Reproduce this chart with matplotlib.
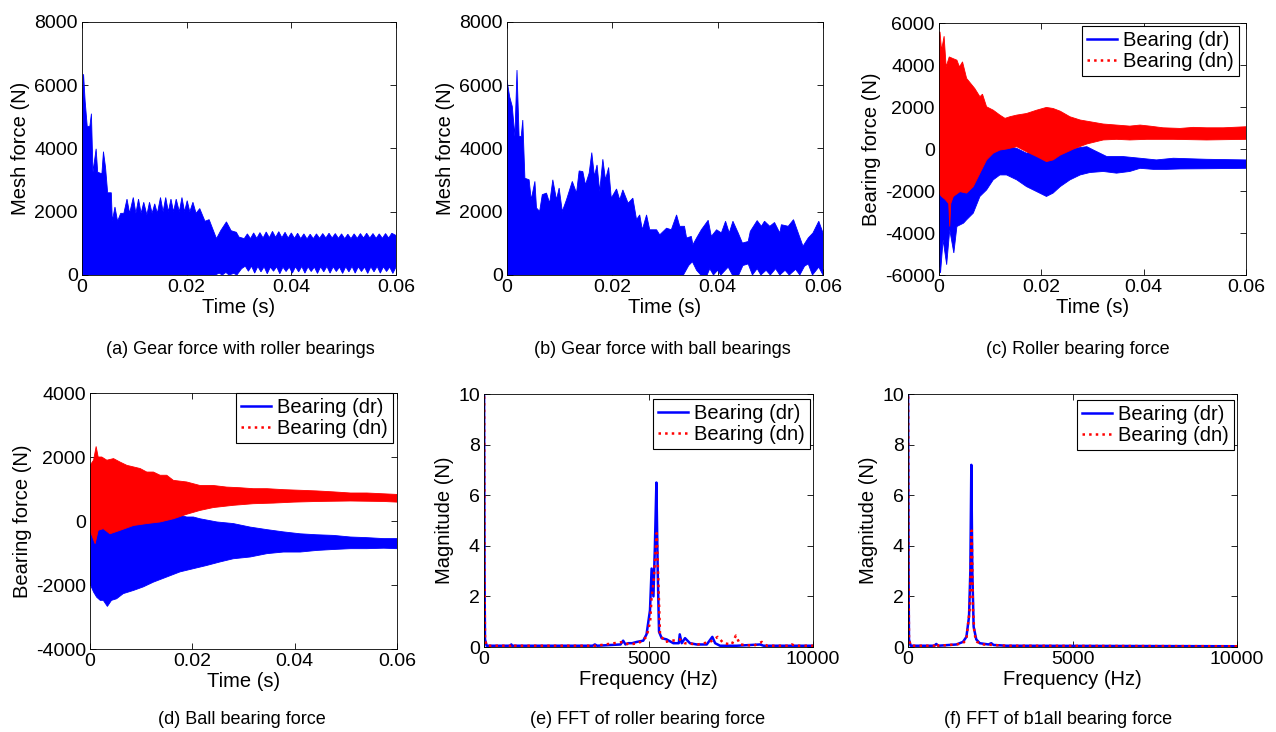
import numpy as np
import matplotlib
matplotlib.use("Agg")
import matplotlib.pyplot as plt
from matplotlib.lines import Line2D

plt.rcParams['font.family'] = ['Liberation Sans', 'DejaVu Sans']

BLUE = '#0000FF'
RED = '#FF0000'

# ---------------- data (envelopes) ----------------
TIME_TICKS = [0, 0.02, 0.04, 0.06]
TIME_TICK_LABELS = ['0', '0.02', '0.04', '0.06']
FREQ_TICKS = [0, 5000, 10000]
FREQ_TICK_LABELS = ['0', '5000', '10000']
SERIES_LABELS = ['Bearing (dr)', 'Bearing (dn)']
CAPTIONS = ['(a) Gear force with roller bearings', '(b) Gear force with ball bearings',
            '(c) Roller bearing force', '(d) Ball bearing force',
            '(e) FFT of roller bearing force', '(f) FFT of b1all bearing force']

# (a) gear mesh force, roller bearings: upper / lower envelope (t, N)
A_UPPER = [(0.0, 5200), (0.0003, 6350), (0.0006, 5500), (0.0010, 4700), (0.0015, 4700),
           (0.0018, 5100), (0.0021, 3250), (0.0027, 3990), (0.0030, 3250), (0.0038, 3200),
           (0.0041, 3900), (0.0045, 3400), (0.0049, 2600), (0.0056, 2600), (0.0058, 1700),
           (0.0063, 2150), (0.0068, 1700), (0.0074, 1950), (0.0080, 1950), (0.0086, 2400),
           (0.0091, 1950), (0.0098, 2450), (0.0103, 1950), (0.0108, 2400), (0.0113, 1950),
           (0.0118, 2300), (0.0124, 1900), (0.0129, 2300), (0.0134, 1950), (0.0139, 2250),
           (0.0144, 1950), (0.0150, 2450), (0.0155, 2000), (0.0160, 2450), (0.0165, 2000),
           (0.0170, 2400), (0.0175, 2000), (0.0180, 2400), (0.0186, 2000), (0.0191, 2450),
           (0.0196, 2000), (0.0201, 2350), (0.0206, 2000), (0.0212, 2300), (0.0218, 1950),
           (0.0225, 2100), (0.0235, 1700), (0.0243, 1750), (0.0250, 1450), (0.0257, 1150),
           (0.0265, 1400), (0.0276, 1680), (0.0285, 1400), (0.0295, 1350), (0.0300, 1200),
           (0.0310, 1150), (0.0316, 1300), (0.0322, 1150), (0.0328, 1330), (0.0334, 1160),
           (0.0340, 1340), (0.0346, 1170), (0.0352, 1360), (0.0358, 1180), (0.0364, 1380),
           (0.0370, 1190), (0.0376, 1370), (0.0382, 1180), (0.0388, 1350), (0.0394, 1170),
           (0.0400, 1330), (0.0406, 1160), (0.0412, 1320), (0.0418, 1150), (0.0424, 1300),
           (0.0430, 1140), (0.0436, 1290), (0.0442, 1150), (0.0448, 1300), (0.0454, 1160),
           (0.0460, 1310), (0.0466, 1170), (0.0472, 1320), (0.0478, 1170), (0.0484, 1310),
           (0.0490, 1160), (0.0496, 1300), (0.0502, 1150), (0.0508, 1290), (0.0514, 1150),
           (0.0520, 1300), (0.0526, 1160), (0.0532, 1310), (0.0538, 1170), (0.0544, 1320),
           (0.0550, 1170), (0.0556, 1310), (0.0562, 1160), (0.0568, 1300), (0.0574, 1160),
           (0.0580, 1310), (0.0586, 1170), (0.0592, 1320), (0.0600, 1250)]
A_LOWER = [(0.0, 0), (0.0255, 0), (0.0262, 60), (0.0268, 0), (0.0275, 80), (0.0281, 0),
           (0.0290, 50), (0.0296, 0), (0.0305, 200), (0.0312, 280), (0.0318, 120),
           (0.0324, 280), (0.0330, 60), (0.0336, 270), (0.0342, 100), (0.0348, 260),
           (0.0354, 40), (0.0360, 250), (0.0366, 120), (0.0372, 260), (0.0378, 40),
           (0.0384, 250), (0.0390, 110), (0.0396, 250), (0.0402, 60), (0.0408, 260),
           (0.0414, 100), (0.0420, 270), (0.0426, 60), (0.0432, 260), (0.0438, 110),
           (0.0444, 250), (0.0450, 50), (0.0456, 260), (0.0462, 100), (0.0468, 270),
           (0.0474, 60), (0.0480, 260), (0.0486, 110), (0.0492, 250), (0.0498, 50),
           (0.0504, 260), (0.0510, 100), (0.0516, 270), (0.0522, 60), (0.0528, 260),
           (0.0534, 110), (0.0540, 250), (0.0546, 50), (0.0552, 260), (0.0558, 100),
           (0.0564, 270), (0.0570, 60), (0.0576, 260), (0.0582, 110), (0.0588, 250),
           (0.0594, 50), (0.0600, 250)]

# (b) gear mesh force, ball bearings
B_UPPER = [(0.0, 6170), (0.0005, 5640), (0.0010, 5330), (0.0015, 4380), (0.0019, 6480),
           (0.0023, 4380), (0.0027, 4380), (0.0030, 4900), (0.0034, 3060), (0.0042, 3010),
           (0.0046, 2380), (0.0053, 2960), (0.0056, 2120), (0.0062, 2010), (0.0067, 2540),
           (0.0075, 2590), (0.0081, 2270), (0.0087, 3010), (0.0094, 2380), (0.0099, 2750),
           (0.0105, 2010), (0.0113, 2380), (0.0124, 2960), (0.0132, 2590), (0.0137, 3290),
           (0.0144, 3270), (0.0149, 2850), (0.0156, 3220), (0.0161, 3870), (0.0166, 3120),
           (0.0171, 3480), (0.0176, 2640), (0.0182, 3660), (0.0187, 3010), (0.0193, 3400),
           (0.0198, 2430), (0.0208, 2720), (0.0214, 2380), (0.0220, 2690), (0.0230, 2270),
           (0.0239, 2430), (0.0246, 1750), (0.0252, 1900), (0.0257, 1430), (0.0265, 1900),
           (0.0271, 1430), (0.0284, 1430), (0.0290, 1270), (0.0303, 1480), (0.0312, 1430),
           (0.0322, 1900), (0.0328, 1540), (0.0337, 1540), (0.0341, 1170), (0.0350, 1220),
           (0.0353, 960), (0.0360, 1170), (0.0369, 1430), (0.0382, 1730), (0.0388, 1220),
           (0.0398, 1430), (0.0407, 1330), (0.0415, 1700), (0.0422, 1330), (0.0429, 1700),
           (0.0439, 1330), (0.0447, 1010), (0.0458, 1060), (0.0462, 1380), (0.0475, 1720),
           (0.0483, 1540), (0.0489, 1700), (0.0499, 1540), (0.0508, 1660), (0.0518, 1330),
           (0.0521, 1590), (0.0534, 1540), (0.0544, 1750), (0.0553, 1330), (0.0562, 910),
           (0.0572, 1170), (0.0581, 1330), (0.0592, 1700), (0.0600, 1330)]
B_LOWER = [(0.0, 0), (0.0290, 0), (0.0335, 0), (0.0345, 300), (0.0352, 420), (0.0360, 150),
           (0.0368, 0), (0.0380, 0), (0.0385, 200), (0.0392, 0), (0.0400, 150), (0.0406, 0),
           (0.0420, 250), (0.0428, 0), (0.0440, 0), (0.0448, 300), (0.0458, 350),
           (0.0466, 0), (0.0475, 200), (0.0482, 0), (0.0492, 150), (0.0500, 0),
           (0.0510, 200), (0.0518, 0), (0.0528, 150), (0.0536, 0), (0.0548, 180),
           (0.0556, 0), (0.0565, 280), (0.0572, 350), (0.0580, 0), (0.0592, 250), (0.0600, 0)]

# (c) roller bearing force, dn (red) and dr (blue)
C_DN_UPPER = [(0.0, 5570), (0.0002, 5570), (0.0005, 4700), (0.0010, 5370), (0.0014, 3910),
              (0.0020, 4385), (0.0028, 4300), (0.0035, 4230), (0.0040, 3910), (0.0046, 4150),
              (0.0054, 3360), (0.0062, 3120), (0.0070, 2880), (0.0080, 2490), (0.0085, 2610),
              (0.0093, 2010), (0.0106, 1850), (0.0119, 1615), (0.0129, 1460), (0.0139, 1540),
              (0.0152, 1615), (0.0171, 1690), (0.0191, 1850), (0.0210, 1980), (0.0223, 1930),
              (0.0237, 1800), (0.0256, 1535), (0.0276, 1380), (0.0295, 1300), (0.0321, 1190),
              (0.0347, 1140), (0.0373, 1090), (0.0393, 1140), (0.0412, 1090), (0.0438, 1010),
              (0.0471, 980), (0.0497, 1030), (0.0523, 1010), (0.0556, 1010), (0.0600, 1060)]
C_DN_LOWER = [(0.0, -2100), (0.0005, -2260), (0.0012, -2400), (0.0019, -2600), (0.0021, -3690),
              (0.0023, -2600), (0.0028, -2260), (0.0041, -2030), (0.0054, -2100), (0.0067, -1790),
              (0.0080, -1155), (0.0093, -520), (0.0106, -200), (0.0119, -50), (0.0132, 0),
              (0.0152, 110), (0.0171, -130), (0.0191, -360), (0.0210, -600), (0.0223, -520),
              (0.0237, -290), (0.0263, 0), (0.0289, 240), (0.0321, 430), (0.0347, 460),
              (0.0373, 430), (0.0406, 460), (0.0458, 460), (0.0523, 430), (0.0600, 460)]
C_DR_UPPER = [(0.0, 1000), (0.0080, -285), (0.0106, -130), (0.0132, 140), (0.0152, 30),
              (0.0171, -200), (0.0197, -50), (0.0230, 30), (0.0263, 30), (0.0289, 110),
              (0.0302, -50), (0.0328, -360), (0.0360, -360), (0.0393, -440), (0.0425, -520),
              (0.0458, -440), (0.0523, -490), (0.0600, -520)]
C_DR_LOWER = [(0.0, -5430), (0.0003, -5900), (0.0008, -4320), (0.0015, -5510), (0.0021, -3850),
              (0.0029, -4950), (0.0035, -3690), (0.0048, -3530), (0.0054, -3370), (0.0067, -3055),
              (0.0080, -2260), (0.0093, -1950), (0.0106, -1470), (0.0119, -1235), (0.0132, -1235),
              (0.0152, -1470), (0.0171, -1790), (0.0191, -2030), (0.0210, -2260), (0.0223, -2100),
              (0.0237, -1790), (0.0256, -1470), (0.0276, -1235), (0.0295, -1120), (0.0321, -1070),
              (0.0347, -1150), (0.0373, -1070), (0.0393, -920), (0.0419, -970), (0.0445, -970),
              (0.0471, -950), (0.0523, -940), (0.0600, -920)]

# (d) ball bearing force
D_DN_UPPER = [(0.0, 1740), (0.0007, 1900), (0.0012, 2330), (0.0016, 2000), (0.0023, 2000),
              (0.0033, 1900), (0.0046, 1950), (0.0059, 1840), (0.0072, 1740), (0.0085, 1690),
              (0.0098, 1640), (0.0111, 1530), (0.0124, 1530), (0.0137, 1430), (0.0150, 1430),
              (0.0163, 1270), (0.0189, 1220), (0.0215, 1110), (0.0241, 1110), (0.0267, 1060),
              (0.0293, 1040), (0.0319, 1010), (0.0346, 1010), (0.0378, 980), (0.0411, 960),
              (0.0443, 940), (0.0476, 910), (0.0509, 875), (0.0541, 875), (0.0574, 850),
              (0.0600, 830)]
D_DN_LOWER = [(0.0, -290), (0.0010, -710), (0.0016, -290), (0.0026, -240), (0.0039, -400),
              (0.0059, -290), (0.0085, -140), (0.0111, -80), (0.0137, -30), (0.0163, 70),
              (0.0189, 210), (0.0215, 330), (0.0241, 420), (0.0280, 490), (0.0319, 540),
              (0.0359, 560), (0.0398, 590), (0.0443, 610), (0.0509, 625), (0.0574, 610),
              (0.0600, 590)]
D_DR_UPPER = [(0.0, -100), (0.0013, 750), (0.0033, 1170), (0.0052, 1120), (0.0085, 850),
              (0.0117, 590), (0.0150, 330), (0.0176, 180), (0.0189, 125), (0.0202, 125),
              (0.0215, 70), (0.0248, -30), (0.0280, -80), (0.0313, -190), (0.0346, -270),
              (0.0378, -340), (0.0411, -400), (0.0443, -430), (0.0476, -450), (0.0509, -500),
              (0.0541, -520), (0.0574, -550), (0.0600, -550)]
D_DR_LOWER = [(0.0, -1960), (0.0007, -2220), (0.0013, -2380), (0.0020, -2480), (0.0026, -2480),
              (0.0034, -2670), (0.0042, -2480), (0.0052, -2430), (0.0065, -2270), (0.0085, -2170),
              (0.0104, -2060), (0.0124, -1910), (0.0150, -1750), (0.0176, -1590), (0.0202, -1490),
              (0.0228, -1390), (0.0254, -1280), (0.0280, -1180), (0.0313, -1125), (0.0346, -1020),
              (0.0378, -970), (0.0411, -970), (0.0443, -920), (0.0476, -890), (0.0509, -865),
              (0.0541, -865), (0.0574, -850), (0.0600, -865)]

# (e) FFT, roller bearings (Hz, N)
E_DR = [(0, 12), (15, 3), (30, 0.3), (80, 0.05), (800, 0.05), (830, 0.1), (860, 0.05),
        (3300, 0.05), (3370, 0.1), (3440, 0.05), (4150, 0.1), (4230, 0.25), (4300, 0.1),
        (4385, 0.15), (4500, 0.15), (4640, 0.2), (4840, 0.25), (4940, 0.5), (5045, 1.45),
        (5095, 3.1), (5150, 2.0), (5195, 4.0), (5240, 6.5), (5280, 3.0), (5320, 0.6),
        (5400, 0.35), (5550, 0.3), (5755, 0.15), (5920, 0.15), (5950, 0.5), (6010, 0.15),
        (6110, 0.35), (6260, 0.15), (6465, 0.1), (6770, 0.1), (6940, 0.4), (7025, 0.15),
        (7175, 0.05), (7685, 0.05), (8395, 0.1), (8495, 0.05), (10000, 0.05)]
E_DN = [(0, 12), (15, 3), (30, 0.3), (80, 0.05), (850, 0.05), (880, 0.1), (910, 0.05),
        (3400, 0.05), (4230, 0.2), (4400, 0.1), (4700, 0.15), (4940, 0.4), (5050, 1.0),
        (5095, 2.0), (5150, 2.5), (5200, 3.5), (5250, 4.5), (5290, 3.0), (5350, 0.5),
        (5500, 0.2), (5960, 0.3), (6100, 0.15), (6500, 0.1), (6870, 0.2), (7105, 0.4),
        (7280, 0.15), (7530, 0.1), (7655, 0.45), (7785, 0.1), (8200, 0.05), (8445, 0.2),
        (8600, 0.05), (9300, 0.05), (9360, 0.1), (9450, 0.05), (10000, 0.05)]

# (f) FFT, ball bearings
F_DR = [(0, 12), (15, 3), (30, 0.3), (80, 0.05), (800, 0.05), (860, 0.12), (920, 0.05),
        (1470, 0.1), (1670, 0.2), (1775, 0.4), (1855, 1.2), (1895, 3.0), (1925, 7.2),
        (1955, 3.0), (1995, 0.8), (2075, 0.3), (2180, 0.15), (2450, 0.1), (2530, 0.15),
        (2600, 0.08), (2990, 0.05), (10000, 0.03)]
F_DN = [(0, 12), (15, 3), (30, 0.3), (80, 0.05), (800, 0.05), (860, 0.15), (920, 0.05),
        (1470, 0.1), (1670, 0.15), (1775, 0.3), (1875, 1.5), (1905, 3.0), (1935, 4.6),
        (1975, 1.5), (2020, 0.5), (2100, 0.2), (2300, 0.1), (2990, 0.05), (10000, 0.03)]

# ---------------- figure ----------------
W, H = 1276, 732
fig = plt.figure(figsize=(W / 100, H / 100), dpi=100)


def rect(L, R, T, B):
    return [L / W, 1 - B / H, (R - L) / W, (B - T) / H]


def unzip(pairs):
    a = np.array(pairs, dtype=float)
    return a[:, 0], a[:, 1]


def band(ax, upper, lower, color, z):
    tu, vu = unzip(upper)
    tl, vl = unzip(lower)
    ax.fill(np.concatenate([tu, tl[::-1]]), np.concatenate([vu, vl[::-1]]),
            color=color, lw=0.6, ec=color, zorder=z)


def style(ax, xlim, ylim, xticks, xtl, yticks, xlabel, ylabel):
    ax.set_xlim(*xlim)
    ax.set_ylim(*ylim)
    ax.set_xticks(xticks)
    ax.set_xticklabels(xtl)
    ax.set_yticks(yticks)
    ax.set_yticklabels([str(v) for v in yticks])
    ax.tick_params(direction='in', top=True, right=True, length=4, width=0.6,
                   labelsize=14, pad=3)
    for s in ax.spines.values():
        s.set_linewidth(0.6)
        s.set_zorder(5)
    ax.set_xlabel(xlabel, fontsize=14.5, labelpad=1)
    ax.set_ylabel(ylabel, fontsize=14.5, labelpad=3)


def legend(ax, loc, anchor):
    handles = [Line2D([], [], color=BLUE, lw=1.8, ls='-'),
               Line2D([], [], color=RED, lw=1.8, ls=':')]
    lg = ax.legend(handles, SERIES_LABELS, loc=loc, bbox_to_anchor=anchor,
                   fontsize=14.5, handlelength=1.5, handletextpad=0.3, borderpad=0.25,
                   labelspacing=0.1, borderaxespad=0, fancybox=False, framealpha=1,
                   edgecolor='black')
    lg.get_frame().set_linewidth(0.8)
    lg.set_zorder(10)


# (a)
ax = fig.add_axes(rect(82, 396, 22, 275))
band(ax, A_UPPER, A_LOWER, BLUE, 2)
style(ax, (0, 0.06), (0, 8000), TIME_TICKS, TIME_TICK_LABELS,
      [0, 2000, 4000, 6000, 8000], 'Time (s)', 'Mesh force (N)')

# (b)
ax = fig.add_axes(rect(507, 823, 22, 275))
band(ax, B_UPPER, B_LOWER, BLUE, 2)
style(ax, (0, 0.06), (0, 8000), TIME_TICKS, TIME_TICK_LABELS,
      [0, 2000, 4000, 6000, 8000], 'Time (s)', 'Mesh force (N)')

# (c)
ax = fig.add_axes(rect(939, 1246, 23, 275))
band(ax, C_DR_UPPER, C_DR_LOWER, BLUE, 2)
band(ax, C_DN_UPPER, C_DN_LOWER, RED, 3)
style(ax, (0, 0.06), (-6000, 6000), TIME_TICKS, TIME_TICK_LABELS,
      [-6000, -4000, -2000, 0, 2000, 4000, 6000], 'Time (s)', 'Bearing force (N)')
legend(ax, 'upper left', (0.466, 0.988))

# (d)
ax = fig.add_axes(rect(90, 397, 393, 649))
band(ax, D_DR_UPPER, D_DR_LOWER, BLUE, 2)
band(ax, D_DN_UPPER, D_DN_LOWER, RED, 3)
style(ax, (0, 0.06), (-4000, 4000), TIME_TICKS, TIME_TICK_LABELS,
      [-4000, -2000, 0, 2000, 4000], 'Time (s)', 'Bearing force (N)')
legend(ax, 'upper right', (0.987, 1.0))

# (e)
ax = fig.add_axes(rect(484, 813, 394, 647))
x, y = unzip(E_DR)
ax.plot(x, y, color=BLUE, lw=1.8, zorder=2)
x, y = unzip(E_DN)
ax.plot(x, y, color=RED, lw=1.8, ls=':', zorder=3)
style(ax, (0, 10000), (0, 10), FREQ_TICKS, FREQ_TICK_LABELS,
      [0, 2, 4, 6, 8, 10], 'Frequency (Hz)', 'Magnitude (N)')
legend(ax, 'upper left', (0.514, 0.980))

# (f)
ax = fig.add_axes(rect(908, 1237, 394, 647))
x, y = unzip(F_DR)
ax.plot(x, y, color=BLUE, lw=1.8, zorder=2)
x, y = unzip(F_DN)
ax.plot(x, y, color=RED, lw=1.8, ls=':', zorder=3)
style(ax, (0, 10000), (0, 10), FREQ_TICKS, FREQ_TICK_LABELS,
      [0, 2, 4, 6, 8, 10], 'Frequency (Hz)', 'Magnitude (N)')
legend(ax, 'upper left', (0.514, 0.976))

# captions
cap_pos = [(240, 350), (662, 350), (1078, 350), (242, 720), (648, 720), (1058, 720)]
for text, (px, py) in zip(CAPTIONS, cap_pos):
    fig.text(px / W, 1 - py / H, text, ha='center', va='center', fontsize=13)

fig.savefig('out.png', dpi=100)
